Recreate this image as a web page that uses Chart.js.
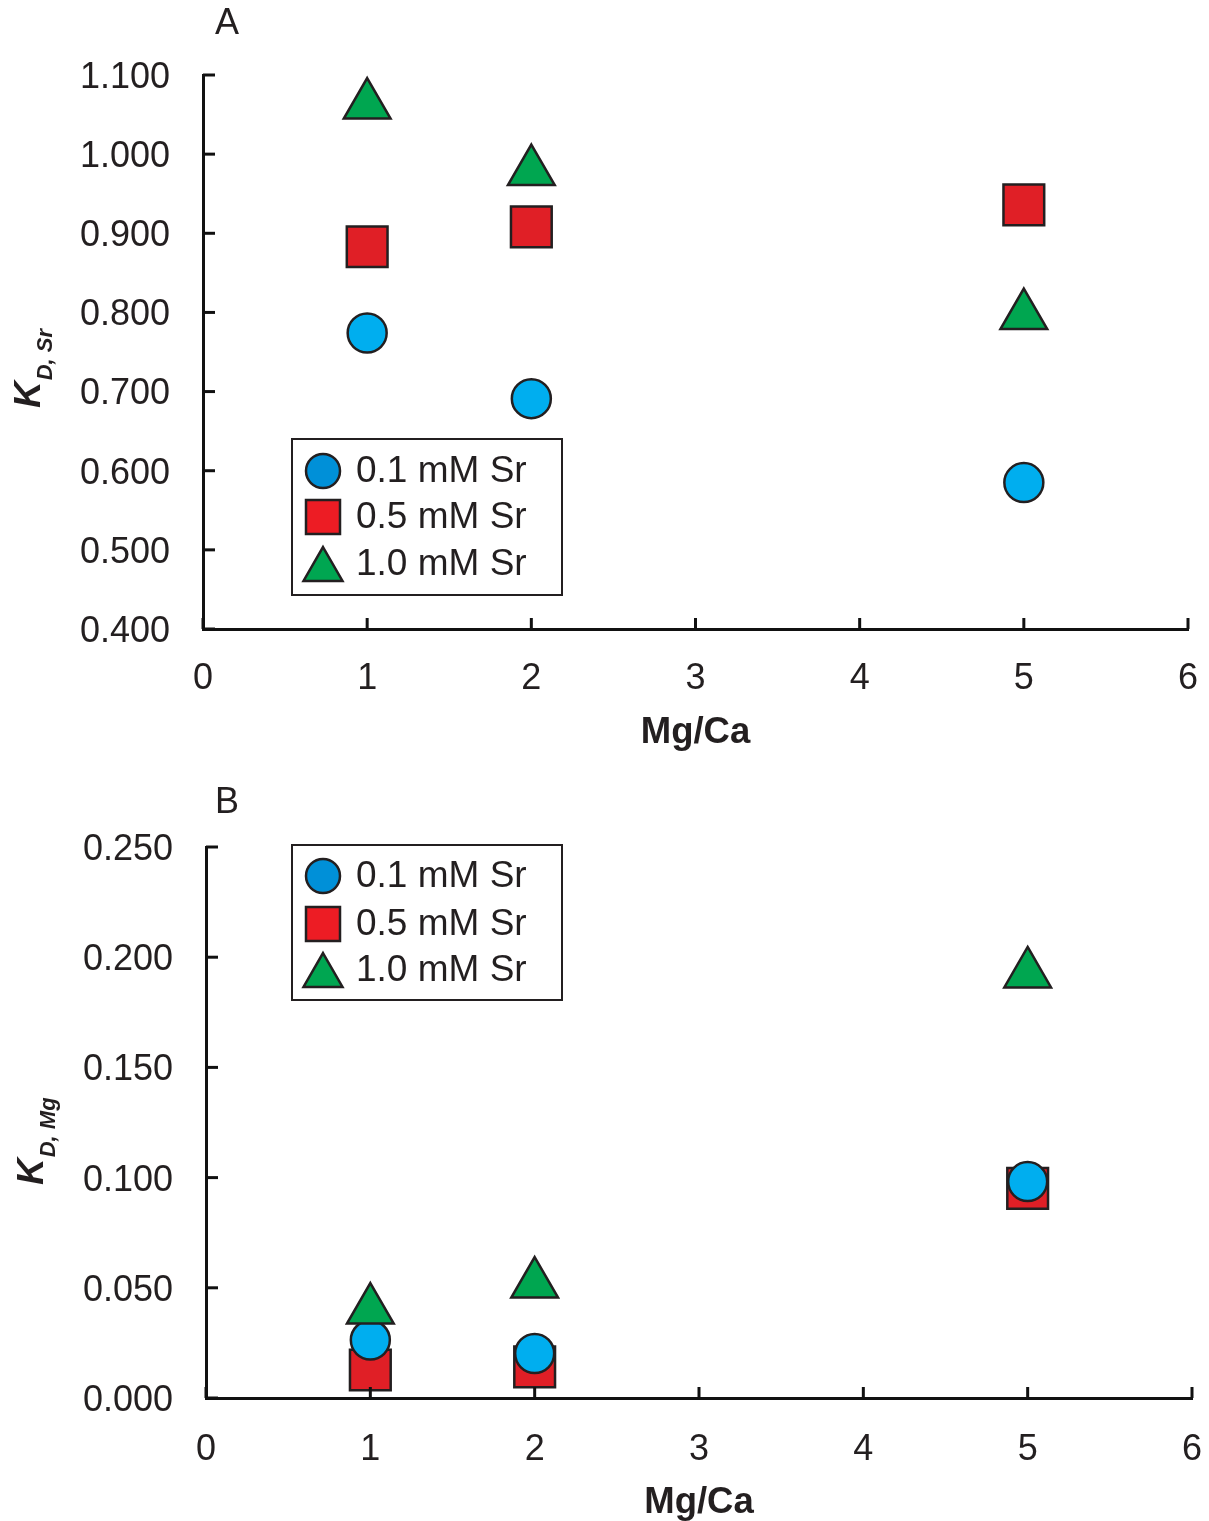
<!DOCTYPE html>
<html>
<head>
<meta charset="utf-8">
<script src="https://cdn.jsdelivr.net/npm/chart.js@4/dist/chart.umd.min.js"></script>
<style>
  html, body { margin: 0; padding: 0; background: #fff; overflow: hidden; }
  .panel { position: absolute; left: 0; width: 1209px; height: 770px; }
</style>
</head>
<body>
<div class="panel" style="top:0"><canvas id="chartA" width="1209" height="770"></canvas></div>
<div class="panel" style="top:770px"><canvas id="chartB" width="1209" height="770"></canvas></div>
<script>
// Mg/Ca oranı (x) ve seri isimleri
const mgCa = [1, 2, 5];
const seriesNames = ['0.1 mM Sr', '0.5 mM Sr', '1.0 mM Sr'];

// Panel A: K_D,Sr
const kdSr_01 = [0.774, 0.691, 0.585];
const kdSr_05 = [0.883, 0.908, 0.936];
const kdSr_10 = [1.062, 0.978, 0.796];

// Panel B: K_D,Mg
const kdMg_01 = [0.0263, 0.0202, 0.0982];
const kdMg_05 = [0.0127, 0.0141, 0.0951];
const kdMg_10 = [0.0399, 0.0517, 0.1924];

// eksen aralıkları
const xRange = [0, 6, 1];
const yRangeA = [0.4, 1.1, 0.1];
const yRangeB = [0, 0.25, 0.05];

const FONT = '"Liberation Sans", Arial, sans-serif';
const INK = '#231F20';
const plotColors = ['#00AEEF', '#E01F26', '#00A650'];
const legendColors = ['#0090D8', '#ED1C24', '#00A651'];

function toPoints(values) {
    return mgCa.map((x, i) => ({ x: x, y: values[i] }));
}

// legend işaretleri (kendi çizimimiz)
function drawMarker(ctx, shape, x, y, size, fill) {
    ctx.beginPath();
    if (shape === 'circle') {
        ctx.arc(x, y, size, 0, Math.PI * 2);
    } else if (shape === 'rect') {
        ctx.rect(x - size, y - size, size * 2, size * 2);
    } else {
        const h = size * 1.732;
        ctx.moveTo(x, y - h / 2);
        ctx.lineTo(x + size, y + h / 2);
        ctx.lineTo(x - size, y + h / 2);
        ctx.closePath();
    }
    ctx.fillStyle = fill;
    ctx.fill();
    ctx.lineWidth = 2.5;
    ctx.strokeStyle = INK;
    ctx.stroke();
}

// içe doğru tick çizgileri, legend kutusu, y başlığı ve panel harfi
const decorPlugin = {
    id: 'decor',
    afterDraw(chart, args, opts) {
        const ctx = chart.ctx;
        const area = chart.chartArea;
        const xs = chart.scales.x;
        const ys = chart.scales.y;
        ctx.save();
        ctx.strokeStyle = '#111';
        ctx.lineWidth = 3;
        xs.ticks.forEach(t => {
            const px = xs.getPixelForValue(t.value);
            ctx.beginPath();
            ctx.moveTo(px, area.bottom);
            ctx.lineTo(px, area.bottom - 11);
            ctx.stroke();
        });
        ys.ticks.forEach(t => {
            const py = ys.getPixelForValue(t.value);
            ctx.beginPath();
            ctx.moveTo(area.left, py);
            ctx.lineTo(area.left + 12, py);
            ctx.stroke();
        });

        // legend
        const lg = opts.legend;
        ctx.lineWidth = 2;
        ctx.strokeStyle = INK;
        ctx.strokeRect(lg.x, lg.y, lg.w, lg.h);
        const shapes = ['circle', 'rect', 'triangle'];
        const sizes = [17, 17, 19.5];
        ctx.font = '37px ' + FONT;
        ctx.textBaseline = 'middle';
        ctx.textAlign = 'left';
        seriesNames.forEach((name, i) => {
            const cy = lg.y + lg.rows[i];
            drawMarker(ctx, shapes[i], lg.x + 31, cy, sizes[i], legendColors[i]);
            ctx.fillStyle = INK;
            ctx.fillText(name, lg.x + 64, cy + 1);
        });

        // y başlığı: K alt simge
        const yt = opts.yTitle;
        ctx.translate(yt.x, yt.y);
        ctx.rotate(-Math.PI / 2);
        ctx.fillStyle = INK;
        ctx.textBaseline = 'alphabetic';
        ctx.font = 'italic bold 37px ' + FONT;
        ctx.fillText('K', 0, 0);
        const kw = ctx.measureText('K').width;
        ctx.font = 'italic bold 22px ' + FONT;
        ctx.fillText(yt.sub, kw + 1, 12);
        ctx.setTransform(1, 0, 0, 1, 0, 0);

        // panel harfi
        ctx.font = '36px ' + FONT;
        ctx.textAlign = 'center';
        ctx.fillText(opts.letter.text, opts.letter.x, opts.letter.y);
        ctx.restore();
    }
};

function noPad(s) {
    s.paddingLeft = 0;
    s.paddingRight = 0;
    s.paddingTop = 0;
    s.paddingBottom = 0;
}

function makeChart(canvasId, series, yRange, geo) {
    const datasets = [
        { label: seriesNames[0], data: toPoints(series[0]), pointStyle: 'circle', pointRadius: 19.5, backgroundColor: plotColors[0], order: 1 },
        { label: seriesNames[1], data: toPoints(series[1]), pointStyle: 'rect', pointRadius: 28.8, backgroundColor: plotColors[1], order: 2 },
        { label: seriesNames[2], data: toPoints(series[2]), pointStyle: 'triangle', pointRadius: 27, backgroundColor: plotColors[2], order: 0 }
    ];
    datasets.forEach(d => {
        d.borderColor = INK;
        d.borderWidth = 2.5;
        d.pointHoverRadius = d.pointRadius;
        d.clip = false;
    });

    return new Chart(document.getElementById(canvasId), {
        type: 'scatter',
        data: { datasets: datasets },
        options: {
            responsive: false,
            animation: false,
            devicePixelRatio: 1,
            layout: {
                autoPadding: false,
                padding: { top: geo.top, right: 1209 - geo.right, left: 0, bottom: 0 }
            },
            plugins: {
                legend: { display: false },
                tooltip: { enabled: false },
                decor: { legend: geo.legend, yTitle: geo.yTitle, letter: geo.letter }
            },
            scales: {
                x: {
                    type: 'linear',
                    min: xRange[0], max: xRange[1],
                    afterFit: s => { s.height = 770 - geo.bottom; noPad(s); },
                    grid: { drawOnChartArea: false, drawTicks: false },
                    border: { display: true, color: '#111', width: 3 },
                    ticks: { stepSize: xRange[2], padding: geo.xPad, color: INK, font: { family: FONT, size: 36 } },
                    title: { display: true, text: 'Mg/Ca', color: INK, font: { family: FONT, size: 36.5, weight: 'bold' }, padding: { top: 0, bottom: 15 } }
                },
                y: {
                    type: 'linear',
                    min: yRange[0], max: yRange[1],
                    afterFit: s => { s.width = geo.left; noPad(s); },
                    grid: { drawOnChartArea: false, drawTicks: false },
                    border: { display: true, color: '#111', width: 3 },
                    ticks: {
                        stepSize: yRange[2], padding: 33, labelOffset: 3, color: INK,
                        font: { family: FONT, size: 36 },
                        callback: v => v.toFixed(3)
                    }
                }
            }
        },
        plugins: [decorPlugin]
    });
}

makeChart('chartA', [kdSr_01, kdSr_05, kdSr_10], yRangeA, {
    left: 203, right: 1188, top: 75, bottom: 629, xPad: 28,
    legend: { x: 292, y: 439, w: 270, h: 156, rows: [32, 78, 125] },
    yTitle: { x: 40, y: 408, sub: 'D, Sr' },
    letter: { text: 'A', x: 227, y: 34 }
});

makeChart('chartB', [kdMg_01, kdMg_05, kdMg_10], yRangeB, {
    left: 206, right: 1192, top: 77, bottom: 628, xPad: 30,
    legend: { x: 292, y: 75, w: 270, h: 155, rows: [31, 79, 125] },
    yTitle: { x: 43, y: 415, sub: 'D, Mg' },
    letter: { text: 'B', x: 227, y: 43 }
});
</script>
</body>
</html>
